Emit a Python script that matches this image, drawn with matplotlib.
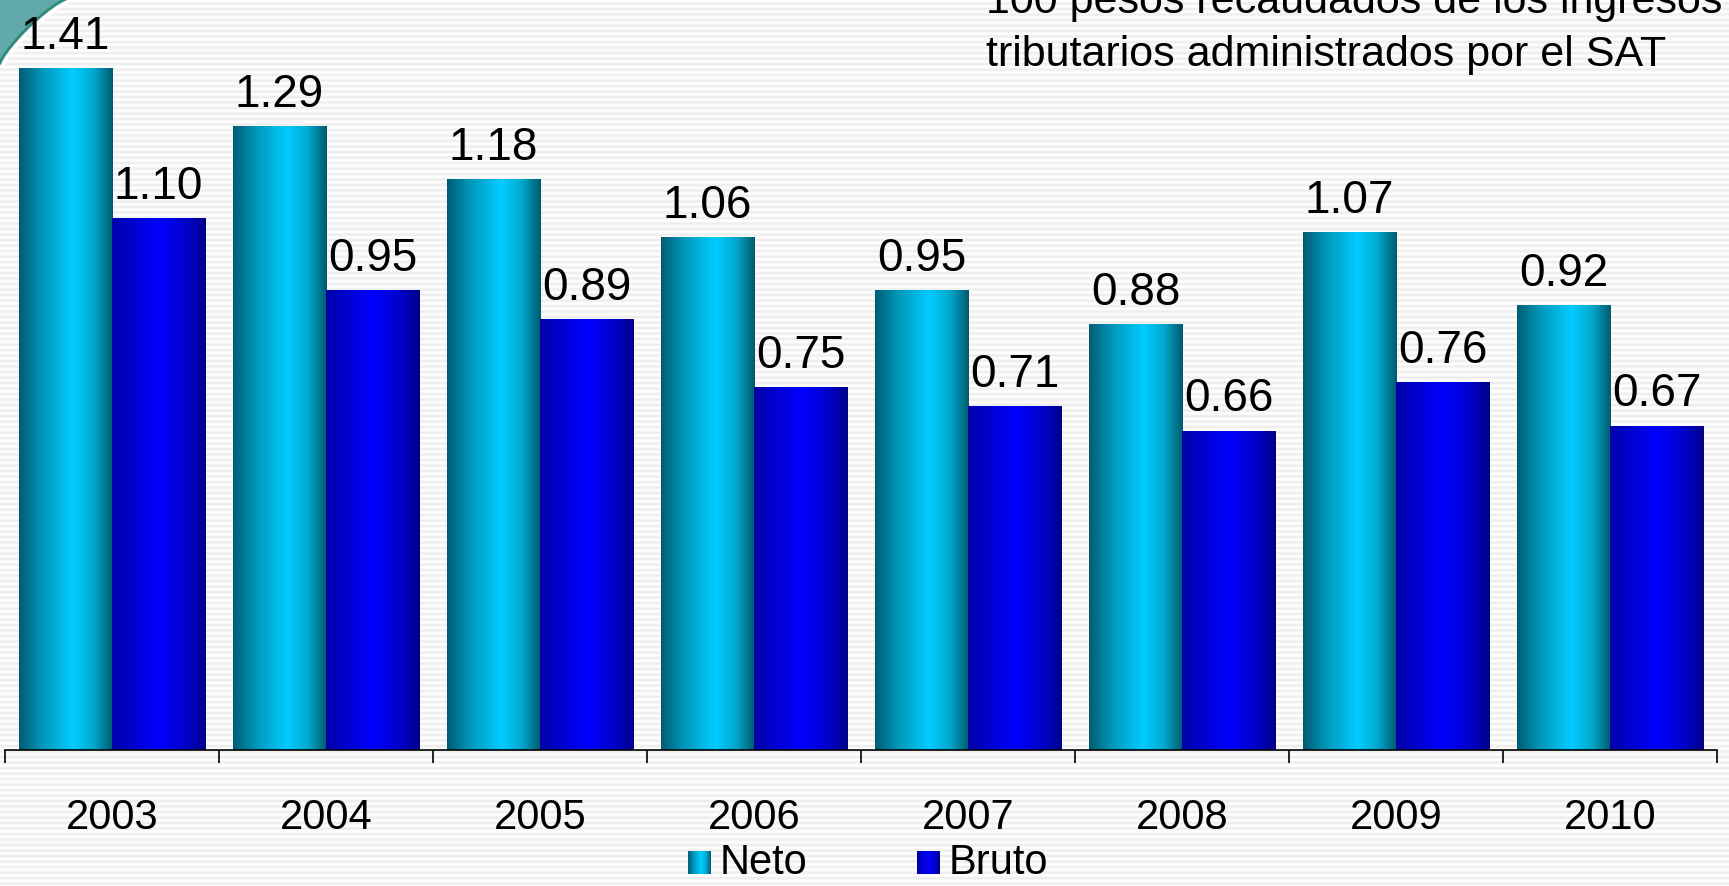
import matplotlib.pyplot as plt
import numpy as np
from matplotlib.colors import LinearSegmentedColormap
from matplotlib.patches import Polygon

years = ["2003", "2004", "2005", "2006", "2007", "2008", "2009", "2010"]
neto = [1.41, 1.29, 1.18, 1.06, 0.95, 0.88, 1.07, 0.92]
bruto = [1.10, 0.95, 0.89, 0.75, 0.71, 0.66, 0.76, 0.67]
series_names = ["Neto", "Bruto"]
title_lines = ["100 pesos recaudados de los ingresos",
               "tributarios administrados por el SAT"]

plt.rcParams['font.family'] = ['Liberation Sans', 'DejaVu Sans']

W, H = 1729, 887
fig = plt.figure(figsize=(W / 100, H / 100), dpi=100)

# striped background
bg = fig.add_axes([0, 0, 1, 1], zorder=-10)
rows = np.arange(H)
stripe = 0.93 + 0.035 * (np.sin(rows * 2 * np.pi / 5.5) + 1)
bg.imshow(np.repeat(stripe[:, None], 4, axis=1), cmap='gray', vmin=0, vmax=1,
          aspect='auto', extent=[0, 1, 0, 1], interpolation='bilinear')
bg.set_xlim(0, 1)
bg.set_ylim(0, 1)
bg.axis('off')

# teal corner decoration (figure pixel coords, y from top)
t = np.linspace(0, 1, 30)
cx = 66 * (1 - t) ** 1.2
cy = 64 * t ** 1.2
bg.add_patch(Polygon([(0, 1)] + list(zip(cx / W, 1 - cy / H)), closed=True,
                     facecolor='#62aaa9', edgecolor='none', transform=fig.transFigure, zorder=2))
bg.plot(cx / W, 1 - cy / H, color='#2a8a7e', lw=2, transform=fig.transFigure, zorder=3)
bg.plot((cx + 3) / W, 1 - (cy + 3) / H, color='white', lw=2, transform=fig.transFigure, zorder=3)

# main axes
base_px = 751
top_val = base_px / 483.3
ax = fig.add_axes([5 / W, (H - base_px) / H, (1717 - 5) / W, base_px / H])
ax.patch.set_alpha(0)

neto_cmap = LinearSegmentedColormap.from_list(
    'neto', [(0, '#005c73'), (0.25, '#0098bb'), (0.58, '#00ccff'), (0.8, '#00a8cc'), (1, '#005a6e')])
bruto_cmap = LinearSegmentedColormap.from_list(
    'bruto', [(0, '#0000a8'), (0.5, '#0000ff'), (0.8, '#0000c8'), (1, '#00008a')])

x = np.arange(len(years))
bw = 0.435
grad = np.linspace(0, 1, 256)[None, :]
for vals, offset, cmap in [(neto, -bw / 2, neto_cmap), (bruto, bw / 2, bruto_cmap)]:
    bars = ax.bar(x + offset, vals, width=bw, color='none', edgecolor='none')
    for rect, v in zip(bars, vals):
        x0 = rect.get_x()
        ax.imshow(grad, cmap=cmap, aspect='auto', interpolation='bilinear',
                  extent=[x0, x0 + rect.get_width(), 0, rect.get_height()], zorder=2)
        ax.annotate(f"{v:.2f}", (x0 + rect.get_width() / 2, v), xytext=(0, 15),
                    textcoords='offset points', ha='center', va='baseline', fontsize=33)
ax.set_xlim(-0.5, len(years) - 0.5)
ax.set_ylim(0, top_val)

for s in ['top', 'right', 'left']:
    ax.spines[s].set_visible(False)
ax.spines['bottom'].set_linewidth(1.2)
ax.set_yticks([])
ax.set_xticks(x)
ax.set_xticklabels(years, fontsize=30)
ax.tick_params(axis='x', which='major', length=0, pad=34)
ax.set_xticks(np.arange(-0.5, len(years)), minor=True)
ax.tick_params(axis='x', which='minor', length=9, width=1.2, direction='out')

# title text (top right, first line partly cut off as in the source)
for line, base in zip(title_lines, [13, 66]):
    fig.text(986 / W, 1 - base / H, line, fontsize=31, ha='left', va='baseline')

# legend with gradient swatches
lx = [688, 917]
for name, px, cmap in zip(series_names, lx, [neto_cmap, bruto_cmap]):
    sw = fig.add_axes([px / W, (H - 875) / H, 22 / W, 23 / H])
    sw.imshow(grad, cmap=cmap, aspect='auto', interpolation='bilinear')
    sw.axis('off')
    fig.text((px + 32) / W, 1 - 863 / H, name, fontsize=30, ha='left', va='center')

fig.savefig("out.png", dpi=100)
